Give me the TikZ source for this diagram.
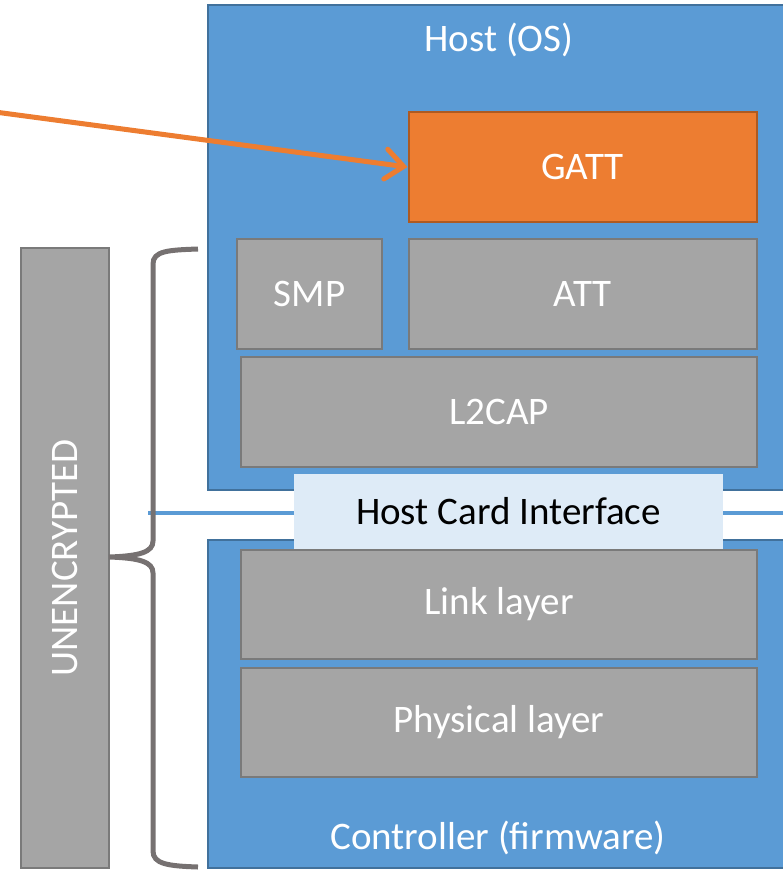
\documentclass[tikz,border=0pt]{standalone}
\usepackage{fontspec}
\setmainfont{Carlito}
\usetikzlibrary{arrows.meta}
\definecolor{hblue}{HTML}{5B9BD5}
\definecolor{hblueb}{HTML}{41719C}
\definecolor{lgray}{HTML}{A5A5A5}
\definecolor{lgrayb}{HTML}{7A7A7A}
\definecolor{orng}{HTML}{ED7D31}
\definecolor{orngb}{HTML}{AE5A21}
\definecolor{pale}{HTML}{DEEBF7}
\definecolor{brc}{HTML}{767171}
\tikzset{
  txt/.style={font=\fontsize{39}{46}\selectfont},
  bluebox/.style={draw=hblueb, fill=hblue, line width=1.5pt, inner sep=0pt},
  graybox/.style={draw=lgrayb, fill=lgray, line width=2pt, inner sep=0pt, text=white, txt},
  orangebox/.style={draw=orngb, fill=orng, line width=2pt, inner sep=0pt, text=white, txt},
  palebox/.style={fill=pale, inner sep=0pt, text=black, txt},
  lbl/.style={text=white, inner sep=0pt, txt},
}
\begin{document}
\begin{tikzpicture}[x=1pt,y=-1pt]
\useasboundingbox (0,0) rectangle (783,871);
\clip (0,0) rectangle (783,871);
% containers
\node[bluebox, minimum width=592pt, minimum height=485pt] (host) at (504,247.5) {};
\node[bluebox, minimum width=592pt, minimum height=328pt] (ctrl) at (504,704) {};
\node[lbl] (hostlbl) at (499,40) {Host (OS)};
\node[lbl] (ctrllbl) at (498,838) {Controller (firmware)};
% interface line
\coordinate (lineL) at (148,513);
\coordinate (lineR) at (790,513);
\draw[hblue, line width=3.5pt] (lineL) -- (lineR);
% layers
\node[orangebox, minimum width=348pt, minimum height=110pt] (gatt) at (582.5,167) {GATT};
\node[graybox, minimum width=145pt, minimum height=110pt] (smp) at (309.5,294) {SMP};
\node[graybox, minimum width=348pt, minimum height=110pt] (att) at (582.5,294) {ATT};
\node[graybox, minimum width=516pt, minimum height=110pt] (l2cap) at (499,412) {L2CAP};
\node[palebox, minimum width=429pt, minimum height=75pt] (hci) at (508.5,511.5) {Host Card Interface};
\node[graybox, minimum width=516pt, minimum height=109pt] (link) at (499,604.5) {Link layer};
\node[graybox, minimum width=516pt, minimum height=109pt] (phy) at (499,722.5) {Physical layer};
% unencrypted
\node[graybox, minimum width=88pt, minimum height=620pt] (unenc) at (64.5,558) {};
\node[lbl, rotate=90] (unenclbl) at (64.5,558) {UNENCRYPTED};
% brace
\draw[brc, line width=5pt] (198,249) .. controls (168,250) and (153,251) .. (153,264)
  -- (153,541) .. controls (153,552) and (140,556) .. (109,557)
  .. controls (140,558) and (153,562) .. (153,573)
  -- (153,851) .. controls (153,864) and (168,866) .. (198,867);
% arrow
\coordinate (src) at (-5,112);
\draw[orng, line width=5pt, line cap=round, -{Straight Barb[length=18pt,width=30pt,line cap=round]}] (src) -- (gatt.west);
\end{tikzpicture}
\end{document}
